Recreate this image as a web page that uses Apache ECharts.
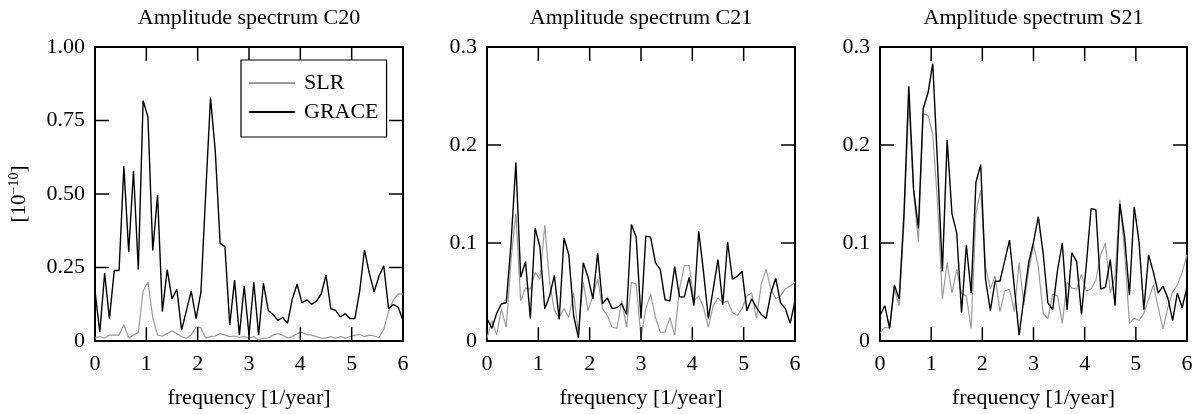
<!DOCTYPE html>
<html>
<head>
<meta charset="utf-8">
<title>Amplitude spectra</title>
<script src="https://cdn.jsdelivr.net/npm/echarts@6.0.0/dist/echarts.min.js"></script>
<style>
  html, body { margin: 0; padding: 0; background: #fff; }
  #chart { width: 1200px; height: 414px; }
</style>
</head>
<body>
<div id="chart"></div>
<script>
// frequency grid: 65 samples, spacing 6/64 per year
var DF = 6 / 64;
var freq = [];
for (var i = 0; i <= 64; i++) freq.push(i * DF);

var titles = ['Amplitude spectrum C20', 'Amplitude spectrum C21', 'Amplitude spectrum S21'];
var seriesNames = ['SLR', 'GRACE'];
var xTickVals = [1, 2, 3, 4, 5];
var c20TickVals = [0.25, 0.5, 0.75];
var c21TickVals = [0.1, 0.2];

var c20Slr = [0.01, 0.015, 0.01, 0.02, 0.02, 0.02, 0.055, 0.01, 0.02, 0.03,
  0.17, 0.2, 0.08, 0.02, 0.017, 0.025, 0.035, 0.025, 0.015, 0.01,
  0.02, 0.048, 0.045, 0.01, 0.015, 0.017, 0.025, 0.02, 0.015, 0.017,
  0.012, 0.015, 0.01, 0.015, 0.003, 0.01, 0.01, 0.02, 0.025, 0.02,
  0.01, 0.015, 0.025, 0.03, 0.022, 0.02, 0.015, 0.01, 0.01, 0.015,
  0.01, 0.015, 0.01, 0.015, 0.02, 0.022, 0.015, 0.02, 0.017, 0.012,
  0.04, 0.1, 0.14, 0.16, 0.16];
var c20Grace = [0.17, 0.03, 0.23, 0.076, 0.24, 0.24, 0.594, 0.304, 0.578, 0.243,
  0.817, 0.762, 0.308, 0.496, 0.1, 0.243, 0.143, 0.176, 0.037, 0.104,
  0.17, 0.076, 0.165, 0.5, 0.828, 0.644, 0.332, 0.321, 0.054, 0.207,
  0.02, 0.187, 0.02, 0.2, 0.02, 0.196, 0.104, 0.09, 0.07, 0.08,
  0.06, 0.143, 0.193, 0.13, 0.14, 0.125, 0.135, 0.16, 0.224, 0.11,
  0.104, 0.082, 0.093, 0.076, 0.076, 0.17, 0.31, 0.23, 0.167, 0.22,
  0.256, 0.11, 0.124, 0.115, 0.07];

var c21Slr = [0.003, 0.021, 0.006, 0.033, 0.014, 0.083, 0.13, 0.041, 0.054, 0.053,
  0.07, 0.063, 0.118, 0.06, 0.031, 0.024, 0.033, 0.024, 0.049, 0.008,
  0.06, 0.031, 0.046, 0.063, 0.033, 0.026, 0.014, 0.013, 0.041, 0.014,
  0.06, 0.058, 0.003, 0.033, 0.048, 0.024, 0.009, 0.009, 0.024, 0.006,
  0.053, 0.077, 0.077, 0.041, 0.046, 0.034, 0.014, 0.036, 0.044, 0.039,
  0.041, 0.029, 0.026, 0.033, 0.046, 0.049, 0.023, 0.058, 0.073, 0.053,
  0.043, 0.046, 0.053, 0.056, 0.06];
var c21Grace = [0.023, 0.013, 0.028, 0.038, 0.039, 0.1, 0.182, 0.065, 0.081, 0.023,
  0.115, 0.096, 0.033, 0.046, 0.067, 0.022, 0.105, 0.088, 0.026, 0.003,
  0.08, 0.065, 0.043, 0.09, 0.038, 0.044, 0.033, 0.034, 0.038, 0.027,
  0.119, 0.106, 0.023, 0.107, 0.106, 0.08, 0.073, 0.042, 0.041, 0.076,
  0.045, 0.045, 0.065, 0.036, 0.112, 0.07, 0.023, 0.053, 0.083, 0.037,
  0.101, 0.063, 0.066, 0.071, 0.031, 0.043, 0.034, 0.027, 0.023, 0.049,
  0.064, 0.039, 0.033, 0.018, 0.041];

var s21Slr = [0.008, 0.014, 0.013, 0.053, 0.036, 0.12, 0.245, 0.151, 0.101, 0.232,
  0.23, 0.211, 0.14, 0.043, 0.08, 0.049, 0.073, 0.048, 0.046, 0.013,
  0.13, 0.154, 0.076, 0.053, 0.066, 0.03, 0.051, 0.053, 0.03, 0.08,
  0.037, 0.072, 0.098, 0.076, 0.028, 0.023, 0.048, 0.046, 0.018, 0.06,
  0.054, 0.053, 0.068, 0.051, 0.053, 0.062, 0.088, 0.1, 0.049, 0.066,
  0.144, 0.09, 0.018, 0.023, 0.021, 0.028, 0.043, 0.057, 0.034, 0.012,
  0.034, 0.05, 0.057, 0.07, 0.088];
var s21Grace = [0.026, 0.036, 0.013, 0.057, 0.043, 0.13, 0.26, 0.155, 0.115, 0.237,
  0.253, 0.283, 0.18, 0.071, 0.205, 0.13, 0.11, 0.029, 0.098, 0.049,
  0.162, 0.18, 0.063, 0.031, 0.061, 0.061, 0.082, 0.103, 0.055, 0.006,
  0.044, 0.08, 0.101, 0.127, 0.09, 0.039, 0.032, 0.072, 0.1, 0.032,
  0.09, 0.081, 0.027, 0.077, 0.135, 0.134, 0.053, 0.055, 0.083, 0.036,
  0.14, 0.106, 0.047, 0.137, 0.101, 0.032, 0.088, 0.07, 0.049, 0.056,
  0.044, 0.021, 0.049, 0.034, 0.055];

var FONT = "'Liberation Serif', 'Times New Roman', serif";
var TICK_LEN = 14;
var panels = [
  { left: 95, width: 308, max: 1, step: 0.25, yTicks: c20TickVals, slr: c20Slr, grace: c20Grace },
  { left: 487, width: 308, max: 0.3, step: 0.1, yTicks: c21TickVals, slr: c21Slr, grace: c21Grace },
  { left: 880, width: 307, max: 0.3, step: 0.1, yTicks: c21TickVals, slr: s21Slr, grace: s21Grace }
];

function pairs(vals) {
  return vals.map(function (v, k) { return [freq[k], v]; });
}

function tickLine(x1, y1, x2, y2) {
  return { type: 'line', shape: { x1: x1, y1: y1, x2: x2, y2: y2 },
    style: { stroke: '#000', lineWidth: 1.5 } };
}

// inward ticks on all four sides, placed through the panel's own axes
function tickSeries(n, p) {
  var items = xTickVals.map(function (v) { return [v, 0, 0]; })
    .concat(p.yTicks.map(function (v) { return [0, v, 1]; }));
  return {
    type: 'custom', name: 'ticks' + n, xAxisIndex: n, yAxisIndex: n,
    silent: true, z: 4, clip: false,
    dimensions: ['x', 'y', 'side'],
    encode: { x: 0, y: 1 },
    data: items,
    renderItem: function (params, api) {
      var lo = api.coord([0, 0]);
      var hi = api.coord([6, p.max]);
      var pt = api.coord([api.value(0), api.value(1)]);
      if (api.value(2) === 0) {
        return { type: 'group', children: [
          tickLine(pt[0], lo[1], pt[0], lo[1] - TICK_LEN),
          tickLine(pt[0], hi[1], pt[0], hi[1] + TICK_LEN)
        ] };
      }
      return { type: 'group', children: [
        tickLine(lo[0], pt[1], lo[0] + TICK_LEN, pt[1]),
        tickLine(hi[0], pt[1], hi[0] - TICK_LEN, pt[1])
      ] };
    }
  };
}

var labelStyle = { color: '#000', fontFamily: FONT, fontSize: 22 };

var option = {
  backgroundColor: '#fff',
  animation: false,
  title: [],
  grid: [],
  xAxis: [],
  yAxis: [],
  series: [],
  legend: {
    data: seriesNames,
    orient: 'vertical',
    left: 241,
    top: 60,
    icon: 'rect',
    backgroundColor: '#fff',
    borderColor: '#000',
    borderWidth: 1.2,
    borderRadius: 0,
    padding: [11, 8, 13, 8],
    itemWidth: 46,
    itemHeight: 2,
    itemGap: 5,
    z: 10,
    textStyle: { color: '#000', fontFamily: FONT, fontSize: 22, lineHeight: 24, padding: [0, 0, 0, 4] }
  }
};

panels.forEach(function (p, n) {
  option.title.push({
    text: titles[n],
    left: p.left + p.width / 2,
    top: 7,
    textAlign: 'center',
    padding: 0,
    textStyle: { color: '#000', fontFamily: FONT, fontSize: 22, fontWeight: 'normal' }
  });
  option.grid.push({
    left: p.left, width: p.width, top: 47, height: 299,
    show: true, borderColor: '#000', borderWidth: 2, backgroundColor: 'transparent'
  });
  option.xAxis.push({
    type: 'value', gridIndex: n, min: 0, max: 6, interval: 1, position: 'bottom',
    axisLine: { show: false }, splitLine: { show: false }, axisTick: { show: false },
    axisLabel: Object.assign({ margin: 12 }, labelStyle),
    name: 'frequency [1/year]', nameLocation: 'middle', nameGap: 46,
    nameTextStyle: { color: '#000', fontFamily: FONT, fontSize: 22 }
  });
  var yl = {
    type: 'value', gridIndex: n, min: 0, max: p.max, interval: p.step, position: 'left',
    axisLine: { show: false }, splitLine: { show: false }, axisTick: { show: false },
    axisLabel: Object.assign({
      margin: 10,
      formatter: function (v) {
        if (v === 0) return '0';
        return p.step === 0.25 ? v.toFixed(2) : v.toFixed(1);
      }
    }, labelStyle)
  };
  if (n === 0) {
    yl.name = '[10{sup|\u221210}]';
    yl.nameLocation = 'middle';
    yl.nameRotate = 90;
    yl.nameGap = 64;
    yl.nameTextStyle = {
      color: '#000', fontFamily: FONT, fontSize: 21,
      rich: { sup: { fontFamily: FONT, fontSize: 14, verticalAlign: 'top', padding: [0, 0, 10, 0] } }
    };
  }
  option.yAxis.push(yl);

  option.series.push({
    name: 'SLR', type: 'line', xAxisIndex: n, yAxisIndex: n,
    symbol: 'none', smooth: false, data: pairs(p.slr),
    lineStyle: { color: '#9b9b9b', width: 1.2 }, itemStyle: { color: '#9b9b9b' }, z: 2
  });
  option.series.push({
    name: 'GRACE', type: 'line', xAxisIndex: n, yAxisIndex: n,
    symbol: 'none', smooth: false, data: pairs(p.grace),
    lineStyle: { color: '#000', width: 1.4 }, itemStyle: { color: '#000' }, z: 3
  });
  option.series.push(tickSeries(n, p));
});

var chart = echarts.init(document.getElementById('chart'), null, { renderer: 'canvas' });
chart.setOption(option);
</script>
</body>
</html>
